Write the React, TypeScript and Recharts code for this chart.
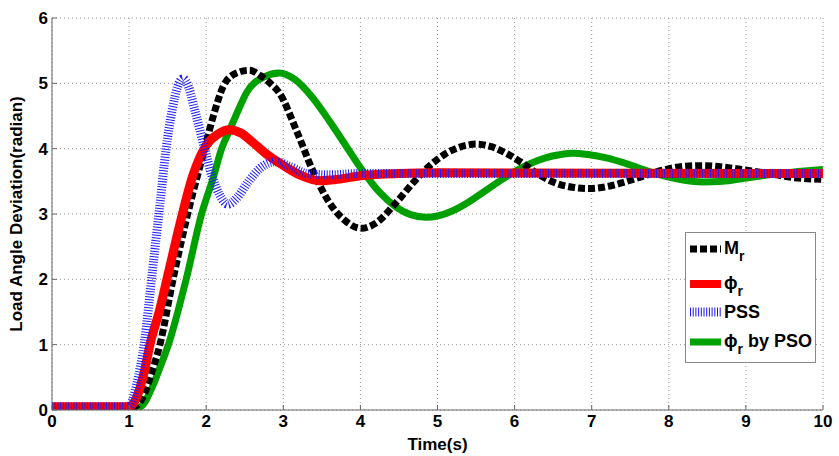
import React from "react";
import { LineChart, Line, XAxis, YAxis, CartesianGrid, Label } from "recharts";

// time (s), load angle deviation (rad)
const MR: [number, number][] = [
  [0, 0.03], [1.0, 0.03], [1.1, 0.07], [1.2, 0.25], [1.3, 0.6], [1.4, 1.0],
  [1.57, 2.0], [1.76, 3.0], [1.98, 4.0], [2.09, 4.49], [2.22, 4.95], [2.38, 5.15],
  [2.56, 5.2], [2.7, 5.12], [2.85, 4.98], [2.95, 4.85], [3.17, 4.28], [3.38, 3.67],
  [3.6, 3.17], [3.8, 2.9], [4.01, 2.78], [4.2, 2.86], [4.46, 3.17], [4.7, 3.5],
  [4.9, 3.74], [5.1, 3.92], [5.37, 4.05], [5.5, 4.07], [5.7, 4.03], [5.89, 3.93],
  [6.1, 3.78], [6.32, 3.6], [6.54, 3.47], [6.75, 3.41], [6.97, 3.39], [7.2, 3.42],
  [7.4, 3.48], [7.62, 3.56], [7.92, 3.67], [8.2, 3.73], [8.44, 3.74], [8.7, 3.72],
  [8.95, 3.68], [9.3, 3.62], [9.6, 3.56], [10, 3.53],
];

const PHI: [number, number][] = [
  [0, 0.05], [1.0, 0.05], [1.1, 0.2], [1.2, 0.6], [1.27, 1.0], [1.4, 1.55],
  [1.51, 2.1], [1.66, 2.85], [1.83, 3.6], [2.0, 4.05], [2.15, 4.22], [2.3, 4.29],
  [2.45, 4.24], [2.6, 4.1], [2.8, 3.9], [2.95, 3.78], [3.1, 3.67], [3.25, 3.58],
  [3.47, 3.51], [3.7, 3.53], [4.03, 3.59], [4.5, 3.62], [5, 3.63], [10, 3.62],
];

const PSS: [number, number][] = [
  [0, 0.05], [1.0, 0.05], [1.1, 0.4], [1.2, 1.05], [1.3, 2.1], [1.4, 3.15],
  [1.48, 4.0], [1.56, 4.6], [1.63, 4.95], [1.7, 5.07], [1.77, 4.95], [1.85, 4.6],
  [1.98, 4.0], [2.07, 3.6], [2.17, 3.3], [2.28, 3.15], [2.4, 3.25], [2.55, 3.5],
  [2.7, 3.7], [2.9, 3.8], [3.1, 3.72], [3.3, 3.62], [3.6, 3.6], [4, 3.62], [10, 3.62],
];

const PSO: [number, number][] = [
  [0, 0.02], [1.05, 0.02], [1.15, 0.05], [1.3, 0.35], [1.4, 0.65], [1.51, 1.0],
  [1.74, 2.0], [1.94, 3.0], [2.09, 3.55], [2.2, 4.0], [2.31, 4.3], [2.42, 4.6],
  [2.52, 4.85], [2.75, 5.1], [2.95, 5.16], [3.15, 5.06], [3.38, 4.78], [3.6, 4.42],
  [3.82, 4.03], [4.03, 3.66], [4.25, 3.33], [4.46, 3.11], [4.65, 2.99], [4.85, 2.95],
  [5.0, 2.97], [5.2, 3.05], [5.4, 3.18], [5.6, 3.34], [5.8, 3.5], [6.0, 3.65],
  [6.2, 3.77], [6.4, 3.86], [6.6, 3.91], [6.75, 3.93], [6.95, 3.91], [7.19, 3.86],
  [7.4, 3.79], [7.62, 3.7], [7.85, 3.61], [8.1, 3.54], [8.44, 3.49], [8.7, 3.5],
  [8.95, 3.54], [9.3, 3.6], [9.6, 3.64], [10, 3.68],
];

const xTicks = [0, 1, 2, 3, 4, 5, 6, 7, 8, 9, 10];
const yTicks = [0, 1, 2, 3, 4, 5, 6];

const toRows = (pts: [number, number][]) => pts.map(([t, v]) => ({ t, v }));

const FONT = '"Liberation Sans", Arial, sans-serif';
const AXIS = "#666";
const tickStyle = { fill: "#000", fontSize: 17, fontWeight: 700, fontFamily: FONT };

const LegendSample = ({ kind }: { kind: string }) => {
  const common = { x1: 0, x2: 31, y1: 6, y2: 6 };
  return (
    <svg width={31} height={12} style={{ marginRight: 3 }}>
      {kind === "mr" && <line {...common} stroke="#000" strokeWidth={7} strokeDasharray="7 3" />}
      {kind === "phi" && <line {...common} stroke="#ff0000" strokeWidth={8} />}
      {kind === "pss" && <line {...common} stroke="#1a1aff" strokeWidth={9} strokeDasharray="1 1.7" />}
      {kind === "pso" && <line {...common} stroke="#00a000" strokeWidth={7} />}
    </svg>
  );
};

const Sub = () => (
  <span style={{ fontSize: 14, position: "relative", top: 7 }}>r</span>
);

const legendRows = [
  { kind: "mr", top: 5, label: <>M<Sub /></> },
  { kind: "phi", top: 40, label: <>ϕ<Sub /></> },
  { kind: "pss", top: 69, label: <>PSS</> },
  { kind: "pso", top: 98, label: <>ϕ<Sub /> by PSO</> },
];

export default function App() {
  return (
    <div style={{ position: "absolute", left: 0, top: 0, width: 839, height: 456, background: "#fff" }}>
      <LineChart width={839} height={456} margin={{ top: 18, right: 16, bottom: 0, left: 0 }}>
        <CartesianGrid stroke="#999" strokeDasharray="1 3" />
        <XAxis
          type="number"
          dataKey="t"
          domain={[0, 10]}
          ticks={xTicks}
          interval={0}
          height={46}
          tick={tickStyle}
          tickSize={-5}
          tickMargin={10}
          stroke={AXIS}
          allowDataOverflow
        >
          <Label
            content={({ viewBox }: any) => (
              <text
                x={viewBox.x + viewBox.width / 2}
                y={450}
                textAnchor="middle"
                style={{ fontSize: 17, fontWeight: 700, fontFamily: FONT }}
                fill="#000"
              >
                Time(s)
              </text>
            )}
          />
        </XAxis>
        <XAxis
          xAxisId="top"
          orientation="top"
          type="number"
          domain={[0, 10]}
          ticks={xTicks}
          interval={0}
          height={0}
          tickSize={-5}
          tickFormatter={() => ""}
          stroke={AXIS}
          allowDataOverflow
        />
        <YAxis
          type="number"
          domain={[0, 6]}
          ticks={yTicks}
          interval={0}
          width={52}
          tick={tickStyle}
          tickSize={-5}
          tickMargin={9}
          stroke={AXIS}
          allowDataOverflow
        >
          <Label
            content={({ viewBox }: any) => (
              <text
                x={22}
                y={viewBox.y + viewBox.height / 2}
                textAnchor="middle"
                transform={`rotate(-90 22 ${viewBox.y + viewBox.height / 2})`}
                style={{ fontSize: 17, fontWeight: 700, fontFamily: FONT }}
                fill="#000"
              >
                Load Angle Deviation(radian)
              </text>
            )}
          />
        </YAxis>
        <YAxis
          yAxisId="right"
          orientation="right"
          type="number"
          domain={[0, 6]}
          ticks={yTicks}
          interval={0}
          width={0}
          tickSize={-5}
          tickFormatter={() => ""}
          stroke={AXIS}
          allowDataOverflow
        />
        <Line data={toRows(PSO)} dataKey="v" type="monotone" stroke="#00a000" strokeWidth={7} dot={false} activeDot={false} isAnimationActive={false} />
        <Line data={toRows(MR)} dataKey="v" type="monotone" stroke="#000" strokeWidth={7} strokeDasharray="7 3" dot={false} activeDot={false} isAnimationActive={false} />
        <Line data={toRows(PHI)} dataKey="v" type="monotone" stroke="#ff0000" strokeWidth={9} dot={false} activeDot={false} isAnimationActive={false} />
        <Line data={toRows(PSS)} dataKey="v" type="monotone" stroke="#1a1aff" strokeWidth={9} strokeDasharray="1 1.7" dot={false} activeDot={false} isAnimationActive={false} />
      </LineChart>
      <div
        style={{
          position: "absolute",
          left: 685,
          top: 232,
          width: 131,
          height: 131,
          border: "1px solid #888",
          background: "#fff",
          fontFamily: FONT,
          fontWeight: 700,
          fontSize: 18,
          boxSizing: "border-box",
        }}
      >
        {legendRows.map((r) => (
          <div
            key={r.kind}
            style={{ position: "absolute", left: 4, top: r.top, display: "flex", alignItems: "center", whiteSpace: "nowrap", lineHeight: "20px" }}
          >
            <LegendSample kind={r.kind} />
            <span>{r.label}</span>
          </div>
        ))}
      </div>
    </div>
  );
}
